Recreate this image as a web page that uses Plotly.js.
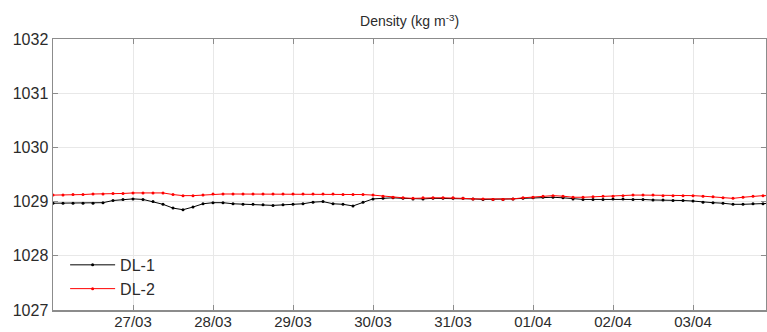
<!DOCTYPE html>
<html>
<head>
<meta charset="utf-8">
<script src="https://cdn.plot.ly/plotly-3.0.1.min.js"></script>
<style>html,body{margin:0;padding:0;background:#fff;}#chart{width:767px;height:332px;}</style>
</head>
<body>
<div id="chart"></div>
<script>
// 3-hourly samples starting 26/03 00:00
const startTime = "2015-03-26T00:00:00";
const stepHours = 3;
const dl1 = [
  1028.97, 1028.97, 1028.97, 1028.97, 1028.97, 1028.98, 1029.02, 1029.04,
  1029.05, 1029.04, 1029.00, 1028.95, 1028.88, 1028.85, 1028.90, 1028.96,
  1028.98, 1028.98, 1028.96, 1028.95, 1028.95, 1028.94, 1028.93, 1028.94,
  1028.95, 1028.96, 1028.99, 1029.00, 1028.96, 1028.95, 1028.92, 1028.99,
  1029.05, 1029.06, 1029.07, 1029.06, 1029.05, 1029.05, 1029.06, 1029.06,
  1029.06, 1029.06, 1029.05, 1029.04, 1029.04, 1029.04, 1029.05, 1029.06,
  1029.07, 1029.08, 1029.08, 1029.07, 1029.05, 1029.04, 1029.04, 1029.04,
  1029.05, 1029.05, 1029.04, 1029.04, 1029.03, 1029.03, 1029.02, 1029.02,
  1029.01, 1028.99, 1028.98, 1028.97, 1028.95, 1028.95, 1028.96, 1028.96,
  1028.97
];
const dl2 = [
  1029.12, 1029.12, 1029.13, 1029.13, 1029.14, 1029.14, 1029.15, 1029.15,
  1029.16, 1029.16, 1029.16, 1029.16, 1029.13, 1029.11, 1029.11, 1029.12,
  1029.14, 1029.14, 1029.14, 1029.14, 1029.14, 1029.14, 1029.14, 1029.14,
  1029.14, 1029.14, 1029.14, 1029.14, 1029.14, 1029.13, 1029.13, 1029.13,
  1029.12, 1029.10, 1029.08, 1029.07, 1029.06, 1029.07, 1029.07, 1029.07,
  1029.07, 1029.06, 1029.05, 1029.05, 1029.04, 1029.04, 1029.05, 1029.07,
  1029.08, 1029.10, 1029.11, 1029.10, 1029.08, 1029.08, 1029.09, 1029.10,
  1029.10, 1029.11, 1029.12, 1029.12, 1029.12, 1029.11, 1029.11, 1029.11,
  1029.11, 1029.10, 1029.09, 1029.07, 1029.06, 1029.08, 1029.10, 1029.11,
  1029.11
];
const seriesNames = ["DL-1", "DL-2"];
const yTicks = [1027, 1028, 1029, 1030, 1031, 1032];
const xTickDates = ["2015-03-27", "2015-03-28", "2015-03-29", "2015-03-30",
                    "2015-03-31", "2015-04-01", "2015-04-02", "2015-04-03"];
const xTickLabels = ["27/03", "28/03", "29/03", "30/03", "31/03", "01/04", "02/04", "03/04"];

const t0 = new Date(startTime + "Z").getTime();
const times = dl1.map((_, i) => new Date(t0 + i * stepHours * 3600000).toISOString().slice(0, 19).replace("T", " "));

const font = {family: "Liberation Sans, Arial, sans-serif", color: "#2b2b2b"};
const traces = [
  {x: times, y: dl1, name: seriesNames[0], type: "scatter", mode: "lines+markers",
   line: {color: "#000", width: 1}, marker: {color: "#000", size: 3}},
  {x: times, y: dl2, name: seriesNames[1], type: "scatter", mode: "lines+markers",
   line: {color: "#ff0000", width: 1}, marker: {color: "#ff0000", size: 3}}
];
const layout = {
  width: 767, height: 332,
  margin: {l: 53, r: 1, t: 39, b: 22},
  paper_bgcolor: "#fff", plot_bgcolor: "#fff",
  font: Object.assign({size: 16}, font),
  title: {text: "Density (kg m<sup>-3</sup>)", font: Object.assign({size: 14}, font),
          x: 0.534, xanchor: "center", y: 0.935, yanchor: "middle"},
  xaxis: {type: "date", range: ["2015-03-26 00:00:00", "2015-04-03 21:54:00"],
          tickvals: xTickDates, ticktext: xTickLabels,
          showgrid: true, gridcolor: "#e8e8e8", gridwidth: 1,
          showline: true, linecolor: "#8c8c8c", linewidth: 1.5, mirror: "ticks",
          ticks: "inside", ticklen: 5, tickcolor: "#8c8c8c", ticklabelstandoff: -3,
          tickfont: Object.assign({size: 15}, font), zeroline: false},
  yaxis: {range: [1027, 1032], tickvals: yTicks, ticktext: yTicks.map(String),
          showgrid: true, gridcolor: "#e8e8e8", gridwidth: 1,
          showline: true, linecolor: "#8c8c8c", linewidth: 1.5, mirror: "ticks",
          ticks: "inside", ticklen: 5, tickcolor: "#8c8c8c",
          tickfont: Object.assign({size: 16}, font), zeroline: false},
  showlegend: true,
  legend: {x: 0.017, y: 0.015, xanchor: "left", yanchor: "bottom", bgcolor: "rgba(255,255,255,0)",
           font: Object.assign({size: 16}, font), borderwidth: 0, tracegroupgap: 0, itemwidth: 45}
};
Plotly.newPlot("chart", traces, layout, {displayModeBar: false, staticPlot: true});
</script>
</body>
</html>
